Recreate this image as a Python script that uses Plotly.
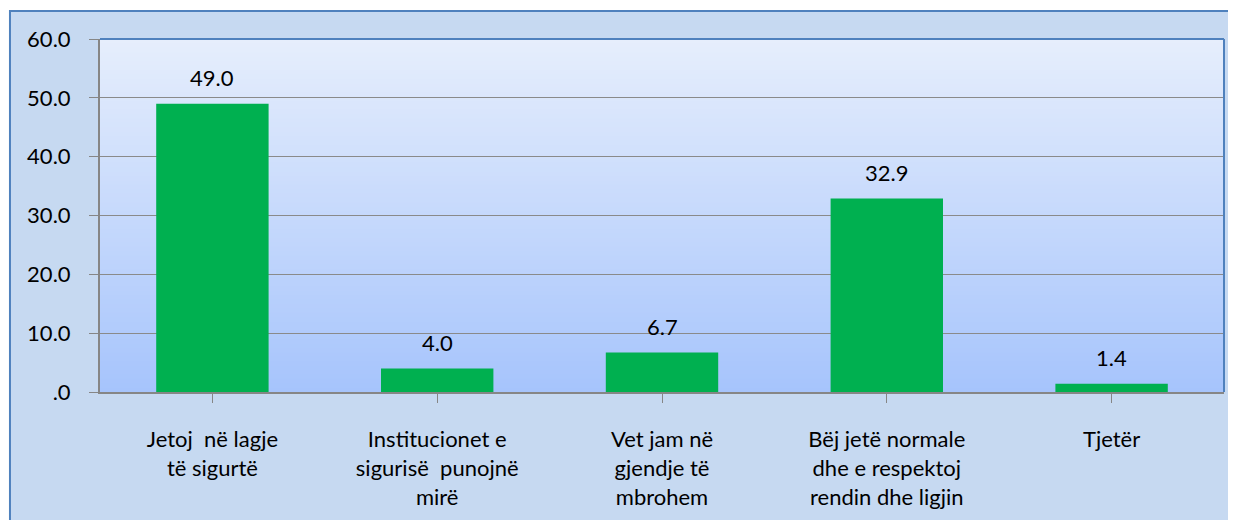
import plotly.graph_objects as go

categories = [
    "Jetoj  në lagje<br>të sigurtë",
    "Institucionet e<br>sigurisë  punojnë<br>mirë",
    "Vet jam në<br>gjendje të<br>mbrohem",
    "Bëj jetë normale<br>dhe e respektoj<br>rendin dhe ligjin",
    "Tjetër",
]
values = [49.0, 4.0, 6.7, 32.9, 1.4]
y_tickvals = [0, 10, 20, 30, 40, 50, 60]
y_ticktext = [".0", "10.0", "20.0", "30.0", "40.0", "50.0", "60.0"]

FONT = "Lato, 'Open Sans', sans-serif"
FS = 22
x_idx = list(range(len(categories)))

fig = go.Figure()
fig.add_trace(go.Bar(
    x=x_idx, y=values,
    marker=dict(color="#00b050", line=dict(width=0)),
    hoverinfo="skip",
))

annotations = [
    dict(x=i, y=v, text=f"{v:.1f}", showarrow=False, xref="x", yref="y",
         yanchor="middle", yshift=26, font=dict(family=FONT, size=FS, color="#000000"))
    for i, v in zip(x_idx, values)
]

shapes = []
# outer chart frame (drawn first)
shapes.append(dict(type="rect", xref="paper", yref="paper",
                   x0=-0.0801, x1=1.2, y0=-0.5, y1=1.0793,
                   fillcolor="#c6d9f1", line=dict(color="#4f81bd", width=2), layer="below"))
# gradient background of the plot area
n = 80
top = (0xe6, 0xee, 0xfc)
bot = (0xa6, 0xc4, 0xfc)
for k in range(n):
    t = (k + 0.5) / n
    c = tuple(round(bot[j] + (top[j] - bot[j]) * t) for j in range(3))
    shapes.append(dict(type="rect", xref="paper", yref="paper",
                       x0=0, x1=1, y0=k / n, y1=(k + 1) / n + 0.002,
                       fillcolor="rgb(%d,%d,%d)" % c, line=dict(width=0), layer="below"))
# blue top and right border of the plot area
shapes.append(dict(type="line", xref="paper", yref="paper", x0=0, x1=1, y0=1, y1=1,
                   line=dict(color="#4f81bd", width=2), layer="above"))
shapes.append(dict(type="line", xref="paper", yref="paper", x0=1, x1=1, y0=0, y1=1,
                   line=dict(color="#4f81bd", width=2), layer="above"))

fig.update_layout(
    width=1236, height=520,
    margin=dict(l=92, r=20, t=31, b=136),
    paper_bgcolor="#ffffff",
    plot_bgcolor="rgba(0,0,0,0)",
    bargap=0.5,
    showlegend=False,
    shapes=shapes,
    annotations=annotations,
    font=dict(family=FONT, size=FS, color="#000000"),
    xaxis=dict(
        tickmode="array", tickvals=x_idx, ticktext=categories,
        range=[-0.5, len(categories) - 0.5],
        showgrid=False, zeroline=False, automargin=False,
        showline=True, linecolor="#868686", linewidth=2,
        ticks="outside", tickson="boundaries", ticklen=9, tickcolor="#868686", tickwidth=1,
        ticklabelstandoff=18,
        tickfont=dict(family=FONT, size=FS, color="#000000"),
    ),
    yaxis=dict(
        range=[0, 60], tickmode="array", tickvals=y_tickvals, ticktext=y_ticktext,
        showgrid=True, gridcolor="#8a8a8a", gridwidth=1,
        zeroline=False, automargin=False,
        showline=True, linecolor="#868686", linewidth=2,
        ticks="outside", ticklen=9, tickcolor="#868686", tickwidth=1,
        ticklabelstandoff=14,
        tickfont=dict(family=FONT, size=FS, color="#000000"),
    ),
)

fig.write_html("out.html")
